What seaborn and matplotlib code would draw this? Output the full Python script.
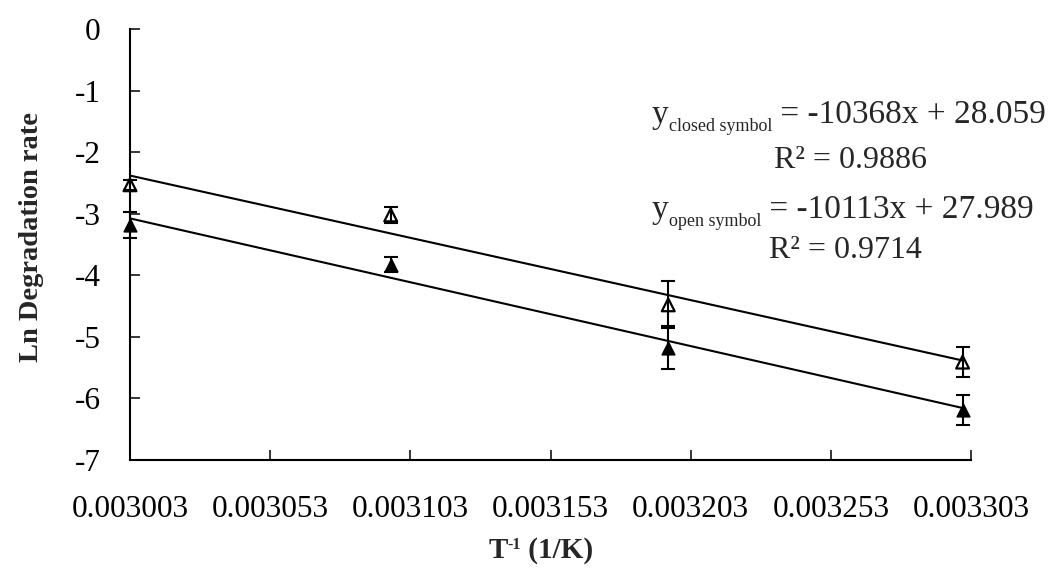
import numpy as np
import pandas as pd
import matplotlib
matplotlib.use("Agg")
import matplotlib.pyplot as plt
import seaborn as sns

# Inverse absolute temperature (1/K) for the four incubation temperatures
inv_temp = [0.003003, 0.003096, 0.003195, 0.003300]

# Ln of degradation rate, means and standard deviations
open_mean = [-2.53, -3.02, -4.48, -5.41]
open_sd = [0.08, 0.13, 0.38, 0.25]
closed_mean = [-3.18, -3.83, -5.18, -6.19]
closed_sd = [0.21, 0.12, 0.35, 0.24]

# Fitted Arrhenius lines (slope, intercept, R^2)
fit_names = ["closed symbol", "open symbol"]
fit_slope = [-10368, -10113]
fit_intercept = [28.059, 27.989]
fit_r2 = [0.9886, 0.9714]

x_ticks = [0.003003, 0.003053, 0.003103, 0.003153, 0.003203, 0.003253, 0.003303]
x_tick_labels = ["0.003003", "0.003053", "0.003103", "0.003153",
                 "0.003203", "0.003253", "0.003303"]
y_ticks = [0, -1, -2, -3, -4, -5, -6, -7]

sns.set_theme(style="white")
plt.rcParams["font.family"] = ["Liberation Serif", "DejaVu Serif"]
plt.rcParams["axes.unicode_minus"] = False

W, H = 1053, 568
fig = plt.figure(figsize=(W / 100, H / 100), dpi=100)
ax = fig.add_axes([130 / W, 1 - 460 / H, (971 - 130) / W, (460 - 29) / H])

# Regression lines, from the left axis to the coldest temperature
x_line = np.array([x_ticks[0], inv_temp[-1]])
for name, m, b in zip(fit_names, fit_slope, fit_intercept):
    line_df = pd.DataFrame({"x": x_line, "y": m * x_line + b})
    sns.lineplot(data=line_df, x="x", y="y", ax=ax, color="black",
                 linewidth=1.5, zorder=2)

# Error bars
ax.errorbar(inv_temp, open_mean, yerr=open_sd, fmt="none", ecolor="black",
            elinewidth=1.5, capsize=4.7, capthick=1.5, zorder=3, clip_on=False)
ax.errorbar(inv_temp, closed_mean, yerr=closed_sd, fmt="none", ecolor="black",
            elinewidth=1.5, capsize=4.7, capthick=1.5, zorder=3, clip_on=False)

# Data points
sns.scatterplot(x=inv_temp, y=open_mean, ax=ax, marker="^", s=85,
                facecolor="none", edgecolor="black", linewidth=1.6,
                zorder=4, clip_on=False)
sns.scatterplot(x=inv_temp, y=closed_mean, ax=ax, marker="^", s=85,
                color="black", edgecolor="black", linewidth=1.0,
                zorder=4, clip_on=False)

ax.set_xlim(x_ticks[0], x_ticks[-1])
ax.set_ylim(-7, 0)
ax.set_xticks(x_ticks)
ax.set_xticklabels(x_tick_labels)
ax.set_yticks(y_ticks)
ax.set_yticklabels([str(v) for v in y_ticks])
ax.set_xlabel("")
ax.set_ylabel("")

for side in ["top", "right"]:
    ax.spines[side].set_visible(False)
for side in ["left", "bottom"]:
    ax.spines[side].set_color("black")
    ax.spines[side].set_linewidth(1.5)

ax.tick_params(axis="both", direction="in", length=7, width=1.1,
               colors="black", labelsize=22.5, pad=21)
ax.tick_params(axis="x", bottom=True, pad=25.5)
ax.tick_params(axis="y", left=True)

renderer = fig.canvas.get_renderer()


def run_text(x0, baseline, pieces, center=False):
    """Lay out text pieces side by side on a pixel baseline.

    pieces: list of (text, fontsize, baseline shift in px (down positive), weight)
    """
    arts = []
    x = x0
    for txt, size, dy, weight in pieces:
        t = fig.text(x / W, 1 - (baseline + dy) / H, txt, ha="left",
                     va="baseline", fontsize=size, fontweight=weight)
        bb = t.get_window_extent(renderer)
        x = bb.x1
        arts.append(t)
    if center:
        shift = (x - x0) / 2
        for t in arts:
            px, py = t.get_position()
            t.set_position((px - shift / W, py))
    return arts


# Axis titles
fig.text(32 / W, 1 - 237 / H, "Ln Degradation rate", rotation=90,
         ha="center", va="center", fontsize=20.5, fontweight="bold")
run_text(541, 558, [("T", 21, 0, "bold"), ("-1", 11.5, -9, "bold"),
                    (" (1/K)", 21, 0, "bold")], center=True)

# Fit equations
eq_base = [123, 218]
r2_base = [168, 258]
r2_x = [850, 845]
for name, m, b, r2, yb, rb, rx in zip(fit_names, fit_slope, fit_intercept,
                                       fit_r2, eq_base, r2_base, r2_x):
    run_text(652, yb, [("y", 24, 0, "normal"), (name, 13, 8, "normal"),
                       (f" = {m}x + {b:.3f}", 24, 0, "normal")])
    fig.text(rx / W, 1 - rb / H, f"R\u00b2 = {r2:.4f}", ha="center",
             va="baseline", fontsize=23)

fig.savefig("out.png", dpi=100)
